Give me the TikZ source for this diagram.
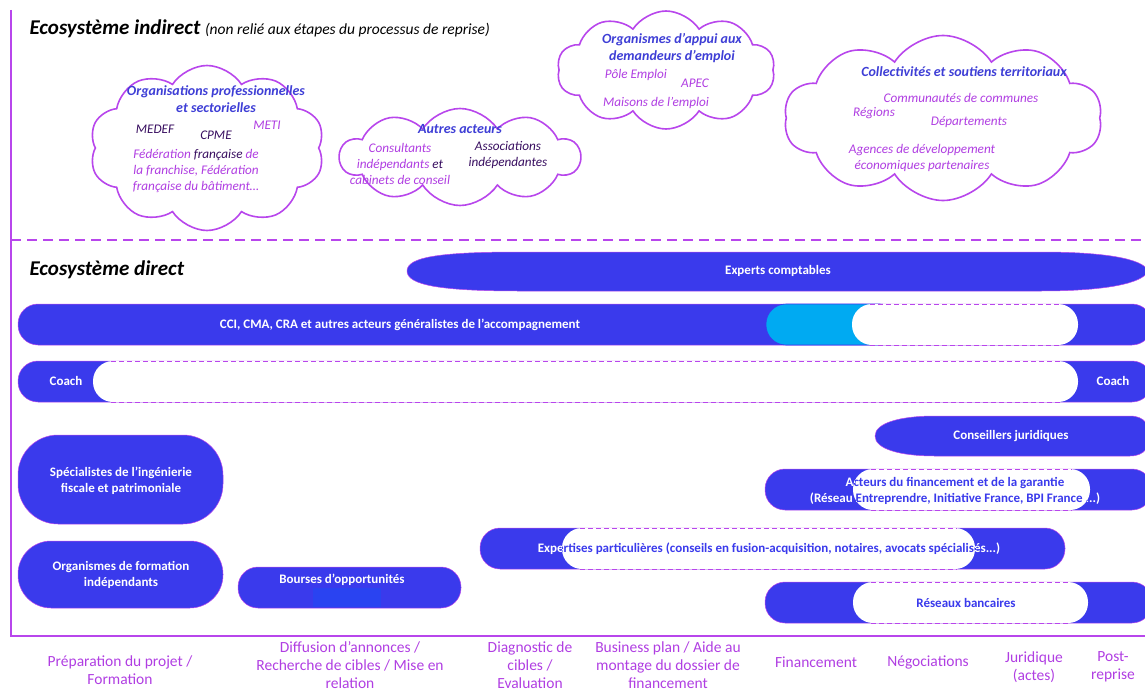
\documentclass[tikz,border=0pt]{standalone}
\usepackage{fontspec}
\setmainfont{Carlito}
\usetikzlibrary{shapes.symbols}

\definecolor{frameviolet}{RGB}{184,70,236}
\definecolor{barblue}{RGB}{58,58,236}
\definecolor{lightbar}{RGB}{0,170,242}
\definecolor{headblue}{RGB}{62,62,214}
\definecolor{itemviolet}{RGB}{176,62,226}
\definecolor{itemdark}{RGB}{56,14,96}

\tikzset{
  bar/.style={fill=barblue, draw=frameviolet, line width=0.5pt},
  holeline/.style={draw=frameviolet, dash pattern=on 5pt off 3pt, line width=1pt},
  barlabel/.style={text=white, font=\bfseries\fontsize{13}{16.5}\selectfont, align=center},
  cloudbox/.style={cloud, cloud puffs=10, cloud puff arc=115, cloud ignores aspect,
    draw=frameviolet, line width=1.6pt, fill=white},
  cloudhead/.style={text=headblue, font=\bfseries\itshape\fontsize{14}{17}\selectfont, align=center},
  clouditem/.style={text=itemviolet, font=\itshape\fontsize{13.2}{16}\selectfont, align=center},
  phase/.style={text=itemviolet, font=\fontsize{15.5}{18}\selectfont, align=center, inner sep=1pt},
}

\begin{document}
\begin{tikzpicture}[x=1pt,y=-1pt]
  \clip (0,0) rectangle (1145,693);

  % frame of the two ecosystems
  \draw[frameviolet, line width=1.6pt] (11,10) -- (11,636) -- (1146,636);
  \draw[frameviolet, line width=1.6pt, dash pattern=on 10pt off 6pt] (11,240) -- (1146,240);

  \node[anchor=west, font=\bfseries\itshape\fontsize{21}{24}\selectfont] (indirecttitle) at (26,29)
    {Ecosystème indirect {\mdseries\fontsize{15.5}{18}\selectfont (non relié aux étapes du processus de reprise)}};
  \node[anchor=west, font=\bfseries\itshape\fontsize{21}{24}\selectfont] (directtitle) at (26,270) {Ecosystème direct};

  % clouds
  \node[cloudbox, minimum width=235pt, minimum height=165pt] (orgcloud) at (207,148) {};
  \node[cloudbox, minimum width=240pt, minimum height=97pt] (otherscloud) at (460,157) {};
  \node[cloudbox, minimum width=218pt, minimum height=118pt] (jobcloud) at (666,70) {};
  \node[cloudbox, minimum width=318pt, minimum height=165pt] (localcloud) at (943,118) {};

  \node[cloudhead] (orghead) at (216,99) {Organisations professionnelles\\et sectorielles};
  \node[clouditem, text=itemdark] (medef) at (155,129) {MEDEF};
  \node[clouditem, text=itemdark] (cpme) at (216,135) {CPME};
  \node[clouditem] (meti) at (267,125) {METI};
  \node[clouditem] (federations) at (196,171) {Fédération \textcolor{itemdark}{française} de\\la franchise, Fédération\\française du bâtiment…};

  \node[cloudhead] (othershead) at (460,129) {Autres acteurs};
  \node[clouditem] (consultants) at (400,164) {Consultants\\indépendants \textcolor{itemdark}{et}\\cabinets de conseil};
  \node[clouditem, text=itemdark] (associations) at (508,155) {Associations\\indépendantes};

  \node[cloudhead] (jobhead) at (672,48) {Organismes d’appui aux\\demandeurs d’emploi};
  \node[clouditem] (pole) at (636,75) {Pôle Emploi};
  \node[clouditem] (apec) at (695,83) {APEC};
  \node[clouditem] (maisons) at (656,103) {Maisons de l’emploi};

  \node[cloudhead] (localhead) at (964,72) {Collectivités et soutiens territoriaux};
  \node[clouditem] (communautes) at (961,98) {Communautés de communes};
  \node[clouditem] (regions) at (874,113) {Régions};
  \node[clouditem] (departements) at (969,122) {Départements};
  \node[clouditem] (agences) at (922,158) {Agences de développement\\économiques partenaires};

  % bars of the direct ecosystem
  \path[bar] (407,271) .. controls (407,257) and (440,252) .. (520,252) -- (1040,252)
    .. controls (1120,252) and (1145,262) .. (1148,271)
    .. controls (1145,280) and (1120,291) .. (1040,291) -- (520,291)
    .. controls (440,291) and (407,285) .. (407,271) -- cycle;
  \draw[bar, rounded corners=20pt] (18,304) rectangle (1152,345);
  \draw[bar, rounded corners=20pt] (18,361) rectangle (1152,402);
  \draw[bar, rounded corners=40pt] (18,435) rectangle (223,524);
  \draw[bar, rounded corners=33pt] (18,541) rectangle (223,608);
  \draw[bar, rounded corners=20pt] (238,567) rectangle (461,608);
  \fill[barblue!80!blue!90!cyan] (313,588) rectangle (381,607);
  \path[bar] (875,436) .. controls (875,423) and (900,416) .. (935,416) -- (1130,416)
    .. controls (1145,416) and (1150,426) .. (1150,436)
    .. controls (1150,446) and (1145,456) .. (1130,456) -- (935,456)
    .. controls (900,456) and (875,449) .. (875,436) -- cycle;
  \draw[bar, rounded corners=20pt] (765,469) rectangle (1152,510);
  \draw[bar, rounded corners=20pt] (480,528) rectangle (1065,569);
  \draw[bar, rounded corners=20pt] (765,582) rectangle (1152,623);

  \draw[fill=lightbar, draw=barblue, line width=0.6pt, rounded corners=20pt] (766,304) rectangle (900,345);

  % white gaps with dashed edges
  \foreach \xa/\xb/\ya/\yb in {852/1078/304/345, 93/1078/361/402, 853/1090/469/510,
                               562/975/528/569, 853/1088/582/623}{
    \fill[white, rounded corners=20pt] (\xa,\ya) rectangle (\xb,\yb);
    \draw[holeline] (\xa+18,\ya) -- (\xb-18,\ya);
    \draw[holeline] (\xa+18,\yb) -- (\xb-18,\yb);
  }

  % bar labels
  \node[barlabel] (experts) at (778,271) {Experts comptables};
  \node[barlabel] (cci) at (400,325) {CCI, CMA, CRA et autres acteurs généralistes de l’accompagnement};
  \node[barlabel] (coachleft) at (66,381) {Coach};
  \node[barlabel] (coachright) at (1113,381) {Coach};
  \node[barlabel] (ingenierie) at (121,481) {Spécialistes de l’ingénierie\\fiscale et patrimoniale};
  \node[barlabel] (formation) at (121,575) {Organismes de formation\\indépendants};
  \node[barlabel] (bourses) at (342,580) {Bourses d’opportunités};
  \node[barlabel] (juridiques) at (1011,436) {Conseillers juridiques};
  \node[barlabel] (financement) at (955,491) {Acteurs du financement et de la garantie\\(Réseau Entreprendre, Initiative France, BPI France ...)};
  \node[barlabel] (expertises) at (769,549) {Expertises particulières (conseils en fusion-acquisition, notaires, avocats spécialisés...)};
  \begin{scope}
    \clip[rounded corners=20pt] (853,469) rectangle (1090,510);
    \node[barlabel, text=barblue] (financementin) at (financement) {Acteurs du financement et de la garantie\\(Réseau Entreprendre, Initiative France, BPI France ...)};
  \end{scope}
  \begin{scope}
    \clip[rounded corners=20pt] (562,528) rectangle (975,569);
    \node[barlabel, text=barblue] (expertisesin) at (expertises) {Expertises particulières (conseils en fusion-acquisition, notaires, avocats spécialisés...)};
  \end{scope}
  \node[barlabel, text=barblue] (bancaires) at (966,603) {Réseaux bancaires};

  % phases of the takeover process
  \node[phase] (prep) at (120,670) {Préparation du projet /\\Formation};
  \node[phase] (diffusion) at (350,665) {Diffusion d’annonces /\\Recherche de cibles / Mise en\\relation};
  \node[phase] (diagnostic) at (530,665) {Diagnostic de\\cibles /\\Evaluation};
  \node[phase] (business) at (668,665) {Business plan / Aide au\\montage du dossier de\\financement};
  \node[phase] (fin) at (816,662) {Financement};
  \node[phase] (nego) at (928,662) {Négociations};
  \node[phase] (actes) at (1034,667) {Juridique\\(actes)};
  \node[phase] (post) at (1113,667) {Post-\\reprise};
\end{tikzpicture}
\end{document}
